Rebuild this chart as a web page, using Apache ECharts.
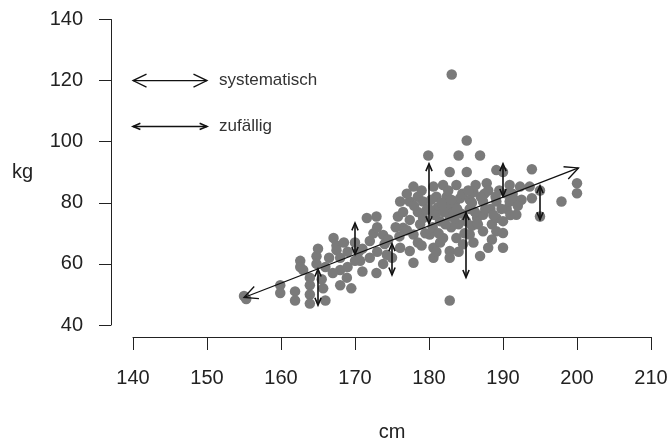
<!DOCTYPE html>
<html>
<head>
<meta charset="utf-8">
<script src="https://cdn.jsdelivr.net/npm/echarts@6/dist/echarts.min.js"></script>
<style>html,body{margin:0;padding:0;background:#fff}#c{width:671px;height:447px}</style>
</head>
<body>
<div id="c"></div>
<script>
// ---- data ----
const heightsCm = [155,155.3,159.9,159.9,161.9,161.9,162.6,162.6,163.9,163.9,163.9,163.9,164.8,164.8,165.7,165.5,167.1,167.5,167.5,168,168,168.9,168.5,169,170,170.5,170.7,171,171.6,172.5,172,172.9,172.9,173.8,173.8,174,174.3,175,175.8,176.1,176.1,176.5,177.4,177.4,177.4,177.9,177.9,177.9,178.5,178.5,178.5,179.2,179.2,179.7,179.9,180.1,180.6,180.6,180.6,180.5,181,181.2,181.5,181.5,181.9,181.9,182.4,182.5,182.8,182.8,182.8,182.8,182.8,183,183.07,183.3,183.5,183.7,183.7,184,184.2,184,184.3,184.6,185.1,185.1,185.5,185.5,185.5,185.8,186.3,186,186.5,186.9,186.9,187.3,187.3,187.3,187.8,187.5,188,188.3,188.5,189.1,189.1,189.1,189.1,189.5,190,190,190,190,190.5,190.9,190.9,191.3,191.8,192.3,192.5,193.6,193.9,193.9,195,195,197.9,200,200,
  176.5,177,178,178.8,179,179.5,180,180.3,180.8,181.3,181.7,182,182.2,182.6,183,183.4,183.8,184.5,184.8,185,185.3,185.8,186.2,186.6,187,187.6,188,188.7,189,189.8,190.5,191,191.5,192,188.5,186,184,181,179,177,176,175.5,174.5,173,
  165,166,166.5,168,169,170,171,172,166,163,167,169.5,173];
const weightsKg = [49.5,48.5,53,50.5,51,48,61,59,55.5,53,50,47,62.5,60,52,55,68.5,66,64.5,58,53,55.5,67,59,61,64,61,57.5,75,70,67.5,75.5,57,60,69.5,66.5,63,62,75.5,80.4,65.3,71.8,80.4,74.4,64.2,85.3,69.6,60.4,82,77,67,80.4,75,77.7,95.5,69.6,85.3,65.3,62,72,82,78.5,74,67,85.8,68.5,82,79,90.1,75.5,64.2,62,48,72,122,77,80,85.8,68.5,95.5,81.5,73,76.5,66.4,100.4,90.1,81,69.6,78,72.5,85.8,83.5,75,95.5,62.6,80.4,76.1,70.7,86.4,83,65.3,78,73,90.7,80.4,75,70.7,84,90.1,74,70.1,65.3,78,85.8,80.4,83,76.1,85.3,81,85.3,91,81.5,75.5,84,80.4,86.4,83.1,
  77,83,79,73,84,70,78,81,76,70,80,77,73,84,81,75,78,83,70,74,84,80,77,73,82,78,84,76,82,78,83,76,81,79,68,67,64,64,66,71,69,72,68,72,
  65,59,62,62,64,67,65,62,48,58,57,52,64];

// arrows: [x1, y1, x2, y2]
const trendArrow = [[155, 49, 200.2, 91.4]];
const residualArrows = [
  [165, 58.3, 165, 46.5],
  [170, 63.1, 170, 73.4],
  [175, 66.6, 175, 56.4],
  [180, 73.2, 180, 92.8],
  [185, 76.8, 185, 55.6],
  [190, 82.1, 190, 92.8],
  [195, 85.6, 195, 74.5]
];
const legendLabels = ['systematisch', 'zufällig'];
const legendArrows = [[140, 120, 150, 120], [140, 105, 150, 105]];

const xTicks = {min: 140, max: 210, step: 10};
const yTicks = {min: 40, max: 140, step: 20};
const xName = 'cm';
const yName = 'kg';

// ---- chart ----
const points = heightsCm.map((h, i) => [h, weightsKg[i]]);
const FONT = '"Liberation Sans", Arial, Helvetica, sans-serif';
const chart = echarts.init(document.getElementById('c'), null, {renderer: 'canvas'});

function arrowHead(tip, from, len, ang) {
  const dx = from[0] - tip[0], dy = from[1] - tip[1];
  const d = Math.sqrt(dx * dx + dy * dy) || 1;
  const ux = dx / d, uy = dy / d;
  const c = Math.cos(ang), s = Math.sin(ang);
  const a = [tip[0] + len * (ux * c - uy * s), tip[1] + len * (ux * s + uy * c)];
  const b = [tip[0] + len * (ux * c + uy * s), tip[1] + len * (-ux * s + uy * c)];
  return [a, tip, b];
}

function arrowRender(len, ang, lw) {
  return function (params, api) {
    const p1 = api.coord([api.value(0), api.value(1)]);
    const p2 = api.coord([api.value(2), api.value(3)]);
    const st = {stroke: '#111', lineWidth: lw, fill: null};
    return {
      type: 'group',
      children: [
        {type: 'line', shape: {x1: p1[0], y1: p1[1], x2: p2[0], y2: p2[1]}, style: st},
        {type: 'polyline', shape: {points: arrowHead(p1, p2, len, ang)}, style: st},
        {type: 'polyline', shape: {points: arrowHead(p2, p1, len, ang)}, style: st}
      ]
    };
  };
}

chart.setOption({
  animation: false,
  grid: {left: 133, right: 20, top: 19.5, bottom: 119, containLabel: false},
  xAxis: {
    type: 'value', min: xTicks.min, max: xTicks.max, interval: xTicks.step,
    offset: 12,
    axisLine: {show: true, onZero: false, lineStyle: {color: '#222', width: 1}},
    axisTick: {show: true, length: 13, lineStyle: {color: '#222'}},
    axisLabel: {margin: 31, fontSize: 20, color: '#222', fontFamily: FONT},
    splitLine: {show: false},
    name: xName, nameLocation: 'middle', nameGap: 85, nameMoveOverlap: false,
    nameTextStyle: {fontSize: 20, color: '#222', fontFamily: FONT}
  },
  yAxis: {
    type: 'value', min: yTicks.min, max: yTicks.max, interval: yTicks.step,
    offset: 22,
    axisLine: {show: true, onZero: false, lineStyle: {color: '#222', width: 1}},
    axisTick: {show: true, length: 12, lineStyle: {color: '#222'}},
    axisLabel: {margin: 28, fontSize: 20, color: '#222', fontFamily: FONT},
    splitLine: {show: false},
    name: yName, nameLocation: 'middle', nameRotate: 0, nameGap: 78, nameMoveOverlap: false,
    nameTextStyle: {fontSize: 20, color: '#222', fontFamily: FONT}
  },
  series: [
    {
      type: 'scatter', data: points, symbol: 'circle', symbolSize: 10.5,
      itemStyle: {color: '#7a7a7a', opacity: 1}, z: 2, silent: true
    },
    {
      type: 'custom', data: trendArrow, clip: false, z: 5, silent: true,
      renderItem: arrowRender(15, 0.45, 1.3)
    },
    {
      type: 'custom', data: residualArrows, clip: false, z: 5, silent: true,
      renderItem: arrowRender(8, 0.4, 1.6)
    },
    {
      type: 'custom', data: legendArrows, clip: false, z: 5, silent: true,
      renderItem: function (params, api) {
        const open = params.dataIndex === 0;
        const base = arrowRender(open ? 15 : 8, open ? 0.45 : 0.4, open ? 1.3 : 1.6)(params, api);
        const p2 = api.coord([api.value(2), api.value(3)]);
        base.children.push({
          type: 'text',
          style: {
            text: legendLabels[params.dataIndex], x: p2[0] + 12, y: p2[1],
            verticalAlign: 'middle', align: 'left',
            font: '17px ' + FONT, fill: '#333'
          }
        });
        return base;
      }
    }
  ]
});
</script>
</body>
</html>
